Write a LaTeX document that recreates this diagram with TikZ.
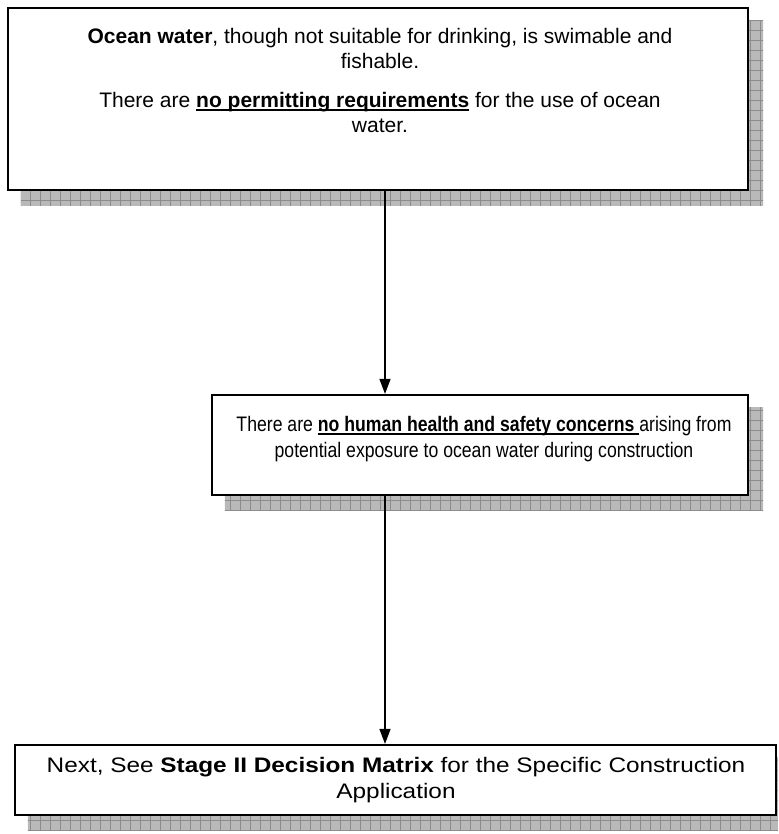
\documentclass[tikz,border=0pt]{standalone}
\usepackage{fontspec}
\setmainfont{Liberation Sans}[FakeStretch=0.83]
\newfontfamily\fontA{Liberation Sans}[FakeStretch=1.0]
\newfontfamily\fontB{Liberation Sans}[FakeStretch=0.84]
\newfontfamily\fontC{Liberation Sans}[FakeStretch=1.16]
\usetikzlibrary{arrows.meta,backgrounds}
\definecolor{shadowgray}{RGB}{185,185,185}
\definecolor{gridgray}{RGB}{140,140,140}
\newcommand\myul[1]{\begingroup\setbox0\hbox{#1}\rlap{\rule[-3.8pt]{\wd0}{1.8pt}}\box0\endgroup}
\tikzset{
  boxshape/.style={draw=black, line width=2.2pt, fill=white, rectangle, inner sep=0pt},
  txt/.style={align=center, inner sep=0pt},
  arr/.style={line width=1.4pt, -{Triangle[width=11pt,length=15pt]}},
}
\newcommand\shadowfor[1]{%
  \begin{scope}
    \clip ([shift={(14pt,-14pt)}]#1.north west) rectangle ([shift={(14pt,-14pt)}]#1.south east);
    \fill[shadowgray] (0,0) rectangle (778,834);
    \draw[gridgray, line width=0.5pt, step=10pt] (0,0) grid (778,834);
  \end{scope}}
\begin{document}
\begin{tikzpicture}[x=1pt,y=-1pt]
\useasboundingbox (0,0) rectangle (778,834);
% boxes
\node[boxshape, minimum width=740pt, minimum height=182pt] (b1) at (378,99) {};
\node[boxshape, minimum width=536pt, minimum height=100pt] (b2) at (480,445) {};
\node[boxshape, minimum width=761pt, minimum height=70pt] (b3) at (395.5,780) {};
% texts
\node[txt, font=\fontA\fontsize{21}{25}\selectfont] (t1) at (380,80) {\textbf{Ocean water}, though not suitable for drinking, is swimable and\\ fishable.\\[14pt] There are \myul{\textbf{no permitting requirements}} for the use of ocean\\ water.};
\node[txt, font=\fontB\fontsize{21}{26.5}\selectfont] (t2) at (484,439) {There are \myul{\textbf{no human health and safety concerns}\ }arising from\\ potential exposure to ocean water during construction};
\node[txt, font=\fontC\fontsize{21}{26}\selectfont] (t3) at (396,780) {Next, See \textbf{Stage II Decision Matrix} for the Specific Construction\\ Application};
% shadows
\begin{scope}[on background layer]
  \shadowfor{b1}
  \shadowfor{b2}
  \shadowfor{b3}
\end{scope}
% arrows
\coordinate (ax) at (385,0);
\draw[arr] (ax |- b1.south) -- (ax |- b2.north);
\draw[arr] (ax |- b2.south) -- (ax |- b3.north);
\end{tikzpicture}
\end{document}
